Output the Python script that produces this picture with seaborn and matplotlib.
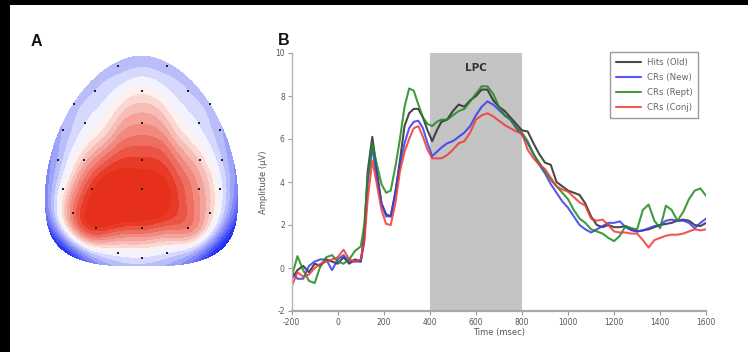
import numpy as np
import pandas as pd
import matplotlib
matplotlib.use("Agg")
import matplotlib.pyplot as plt
import seaborn as sns
from matplotlib.colors import LinearSegmentedColormap, TwoSlopeNorm
from matplotlib.patches import Rectangle

# ---------------- ERP data (panel B) ----------------
time_ms = [-200, -175, -150, -125, -100, -75, -50, -25, 0, 25, 50, 75, 100,
           115, 130,
           150, 170, 190, 210, 230, 250, 270, 290, 310, 330, 350, 370, 390, 410, 430, 450,
           475, 500, 525, 550, 575, 600, 625, 650, 675, 700,
           725, 750, 775, 800, 825, 850, 875, 900, 925, 950,
           975, 1000, 1025, 1050, 1075, 1100, 1125, 1150, 1175, 1200,
           1225, 1250, 1275, 1300, 1325, 1350, 1375, 1400, 1425, 1450,
           1475, 1500, 1525, 1550, 1575, 1600]

hits_old = [-0.5, -0.1, 0.1, -0.2, 0.2, 0.1, 0.4, 0.3, 0.2, 0.5, 0.2, 0.4, 0.3,
            1.5, 4.5,
            6.1, 4.5, 3.0, 2.5, 2.4, 3.5, 5.0, 6.6, 7.2, 7.4, 7.4, 7.0, 6.4, 5.9, 6.4, 6.8,
            6.9, 7.3, 7.6, 7.5, 7.8, 8.0, 8.3, 8.3, 7.8, 7.5,
            7.3, 7.0, 6.7, 6.4, 6.35, 5.8, 5.3, 4.9, 4.8, 4.0,
            3.8, 3.6, 3.5, 3.4, 3.0, 2.4, 2.0, 1.9, 2.0, 1.9,
            1.9, 1.95, 1.8, 1.7, 1.75, 1.8, 1.9, 2.0, 2.05, 2.1,
            2.2, 2.25, 2.2, 2.0, 1.95, 2.1]

crs_new = [-0.2, -0.5, -0.5, 0.1, 0.3, 0.4, 0.4, -0.1, 0.4, 0.6, 0.3, 0.3, 0.3,
           1.3, 4.0,
           5.6, 4.2, 3.0, 2.4, 2.4, 3.5, 4.8, 5.8, 6.5, 6.8, 6.85, 6.5, 5.8, 5.2, 5.4, 5.6,
           5.8, 5.9, 6.1, 6.3, 6.6, 7.1, 7.5, 7.75, 7.6, 7.35,
           7.1, 6.9, 6.5, 6.2, 5.8, 5.3, 4.8, 4.4, 3.9, 3.5,
           3.1, 2.8, 2.4, 2.0, 1.8, 1.65, 1.8, 1.95, 2.1, 2.1,
           2.17, 1.9, 1.75, 1.7, 1.75, 1.85, 1.95, 2.0, 2.2, 2.25,
           2.2, 2.2, 2.1, 1.85, 2.1, 2.3]

crs_rept = [-0.4, 0.55, -0.1, -0.6, -0.7, 0.1, 0.5, 0.6, 0.3, 0.2, 0.4, 0.8, 1.0,
            2.0, 4.2,
            5.8, 4.8, 3.9, 3.5, 3.6, 4.7, 6.0, 7.5, 8.35, 8.25, 7.6, 7.0, 6.7, 6.6, 6.8, 6.9,
            6.9, 7.1, 7.3, 7.4, 7.75, 8.1, 8.45, 8.45, 8.1, 7.5,
            7.1, 6.9, 6.55, 6.3, 5.9, 5.3, 4.9, 4.5, 4.1, 3.8,
            3.5, 3.2, 2.7, 2.3, 2.1, 1.8, 1.7, 1.6, 1.4, 1.25,
            1.5, 1.95, 1.85, 1.8, 2.7, 2.95, 2.2, 1.85, 2.9, 2.7,
            2.2, 2.6, 3.2, 3.6, 3.7, 3.35]

crs_conj = [-0.85, -0.2, -0.4, -0.3, 0.0, 0.2, 0.3, 0.4, 0.5, 0.85, 0.4, 0.3, 0.4,
            1.2, 3.2,
            5.0, 3.9, 2.7, 2.05, 2.0, 3.0, 4.5, 5.4, 6.0, 6.5, 6.6, 6.1, 5.5, 5.1, 5.1, 5.1,
            5.25, 5.5, 5.8, 5.9, 6.3, 6.9, 7.1, 7.2, 7.05, 6.85,
            6.65, 6.5, 6.35, 6.25, 5.5, 5.1, 4.8, 4.6, 4.2, 3.8,
            3.65, 3.55, 3.3, 3.05, 2.9, 2.3, 2.2, 2.25, 2.0, 1.7,
            1.65, 1.65, 1.6, 1.6, 1.3, 0.95, 1.3, 1.4, 1.5, 1.55,
            1.55, 1.6, 1.7, 1.8, 1.75, 1.8]

conditions = ["Hits (Old)", "CRs (New)", "CRs (Rept)", "CRs (Conj)"]
cond_colors = ["#2a2a2a", "#3a3af0", "#1f8a1f", "#f03a32"]
x_ticks = [-200, 0, 200, 400, 600, 800, 1000, 1200, 1400, 1600]
y_ticks = [-2, 0, 2, 4, 6, 8, 10]
lpc_window = [400, 800]

# ---------------- Topography data (panel A) ----------------
elec_x = [118, 167, 95, 142, 188, 74, 210, 85, 142, 199, 63, 220,
          58, 84, 142, 200, 222, 63, 92, 142, 199, 220, 73, 210,
          96, 142, 188, 118, 142, 167]
elec_y = [66, 66, 91, 91, 91, 104, 104, 123, 123, 123, 130, 130,
          160, 160, 160, 160, 160, 189, 189, 189, 189, 189, 213, 213,
          228, 228, 228, 253, 258, 253]
elec_v = [-0.8, -0.8, -0.2, 0.5, -0.2, -0.9, -0.9, 0.5, 1.5, 0.5, -1.0, -1.0,
          -1.1, 1.6, 2.4, 1.6, -0.9, -0.2, 4.0, 3.5, 3.0, -0.4, 3.0, 0.7,
          4.0, 3.7, 3.2, 0.7, 0.2, 0.2]
rim_deg = [0, 20, 40, 60, 80, 100, 120, 140, 160, 180, 200, 220, 240, 260,
           280, 300, 320, 340]
rim_v = [-4.2, -3.4, -2.6, -2.2, -2.0, -2.0, -2.2, -2.6, -3.4, -4.2, -4.8, -4.6,
         -3.4, -2.6, -2.6, -3.4, -4.6, -4.8]

# ---------------- style ----------------
sns.set_theme(style="white")
plt.rcParams['font.family'] = ['DejaVu Sans']
plt.rcParams['axes.unicode_minus'] = False

W, H = 748, 352
fig = plt.figure(figsize=(W / 100, H / 100), dpi=100, facecolor='black')
fig.patches.append(Rectangle((10 / W, 0), 1, 1 - 5 / H, transform=fig.transFigure,
                             facecolor='white', edgecolor='none', zorder=-1))

# ---------------- Panel A: scalp map ----------------
HX, HY = 141.5, 195.0
RX, RTOP, RBOT = 97.0, 140.0, 72.0
NTOP, NBOT = 1.8, 3.0


def head_radius(x, y):
    dx = np.abs(x - HX) / RX
    top = y < HY
    dy = np.where(top, (HY - y) / RTOP, (y - HY) / RBOT)
    n = np.where(top, NTOP, NBOT)
    return (dx ** n + dy ** n) ** (1.0 / n)


def rim_point(deg, scale=1.08):
    th = np.deg2rad(deg)
    c, s = np.cos(th), np.sin(th)
    ry, n = (RTOP, NTOP) if s > 0 else (RBOT, NBOT)
    d = 1.0 / ((abs(c) / RX) ** n + (abs(s) / ry) ** n) ** (1.0 / n)
    return HX + scale * d * c, HY - scale * d * s


axA = fig.add_axes([30 / W, (H - 290) / H, 225 / W, 240 / H])

px = list(elec_x)
py = list(elec_y)
pv = list(elec_v)
for d, v in zip(rim_deg, rim_v):
    rx, ry = rim_point(d)
    px.append(rx); py.append(ry); pv.append(v)
px, py, pv = np.array(px), np.array(py), np.array(pv)

gx, gy = np.meshgrid(np.arange(30, 256, 1.0), np.arange(50, 291, 1.0))
sig = 19.0
d2 = (gx[..., None] - px) ** 2 + (gy[..., None] - py) ** 2
w = np.exp(-d2 / (2 * sig ** 2)) + 1e-12
Z = (w * pv).sum(-1) / w.sum(-1)
Z = np.where(head_radius(gx, gy) <= 1.0, Z, np.nan)

cmap = LinearSegmentedColormap.from_list(
    "topo", [(0.0, "#1e2cf2"), (0.5, "#ffffff"), (1.0, "#e6301c")])
norm = TwoSlopeNorm(vcenter=0.0, vmin=-3.2, vmax=2.8)
levels = np.concatenate([np.linspace(-3.2, 0, 9), np.linspace(0.35, 2.8, 8)])
axA.contourf(gx, gy, Z, levels=levels, cmap=cmap, norm=norm, extend='both')
sns.scatterplot(x=elec_x, y=elec_y, ax=axA, color='#222222', s=4,
                marker='s', linewidth=0, legend=False)
axA.set_xlim(30, 255)
axA.set_ylim(290, 50)
axA.axis('off')

fig.text(31 / W, 1 - 46 / H, "A", fontsize=11.5, fontweight='bold',
         family=['Liberation Sans', 'DejaVu Sans'], color='#111111')
fig.text(278 / W, 1 - 45 / H, "B", fontsize=11.5, fontweight='bold',
         family=['Liberation Sans', 'DejaVu Sans'], color='#111111')

# ---------------- Panel B: ERP waveforms ----------------
series = [hits_old, crs_new, crs_rept, crs_conj]
df = pd.concat([pd.DataFrame({"time": time_ms, "amp": s, "cond": c})
                for s, c in zip(series, conditions)], ignore_index=True)

axB = fig.add_axes([291.7 / W, (H - 311) / H, 414.5 / W, 258 / H])
axB.set_facecolor('none')
axB.axvspan(lpc_window[0], lpc_window[1], color='#c4c4c4', lw=0, zorder=0)
sns.lineplot(data=df, x="time", y="amp", hue="cond", hue_order=conditions,
             palette=dict(zip(conditions, cond_colors)), ax=axB,
             linewidth=1.5, alpha=0.85, legend=True, zorder=2)
axB.set_xlim(-200, 1600)
axB.set_ylim(-2, 10)
axB.set_xticks(x_ticks)
axB.set_xticklabels([str(v) for v in x_ticks])
axB.set_yticks(y_ticks)
axB.set_yticklabels([str(v) for v in y_ticks])
axB.tick_params(axis='both', which='both', bottom=True, left=True,
                direction='out', length=3, width=0.8, color='#9a9a9a',
                labelsize=5.5, labelcolor='#555555', pad=2)
for side in ['top', 'right']:
    axB.spines[side].set_visible(False)
axB.spines['left'].set_color('#b5b5b5')
axB.spines['left'].set_linewidth(1.0)
axB.spines['bottom'].set_color('#a8a8a8')
axB.spines['bottom'].set_linewidth(1.6)
axB.set_xlabel("Time (msec)", fontsize=6, color='#555555', labelpad=1)
axB.set_ylabel("Amplitude (\u03bcV)", fontsize=6, color='#555555', labelpad=5)
axB.text(sum(lpc_window) / 2, 9.3, "LPC", ha='center', va='center',
         fontsize=7.5, fontweight='bold', color='#333333')

handles, labels = axB.get_legend_handles_labels()
leg = axB.legend(handles, labels, loc='upper right', bbox_to_anchor=(0.980, 1.004),
                 borderaxespad=0, fontsize=6.2, frameon=True, fancybox=False,
                 framealpha=1, edgecolor='#9a9a9a', handlelength=3.0,
                 labelspacing=0.72, borderpad=0.65, handletextpad=0.6)
leg.get_frame().set_linewidth(1.0)
for t in leg.get_texts():
    t.set_color('#666666')

fig.savefig("out.png", dpi=100, facecolor=fig.get_facecolor())
